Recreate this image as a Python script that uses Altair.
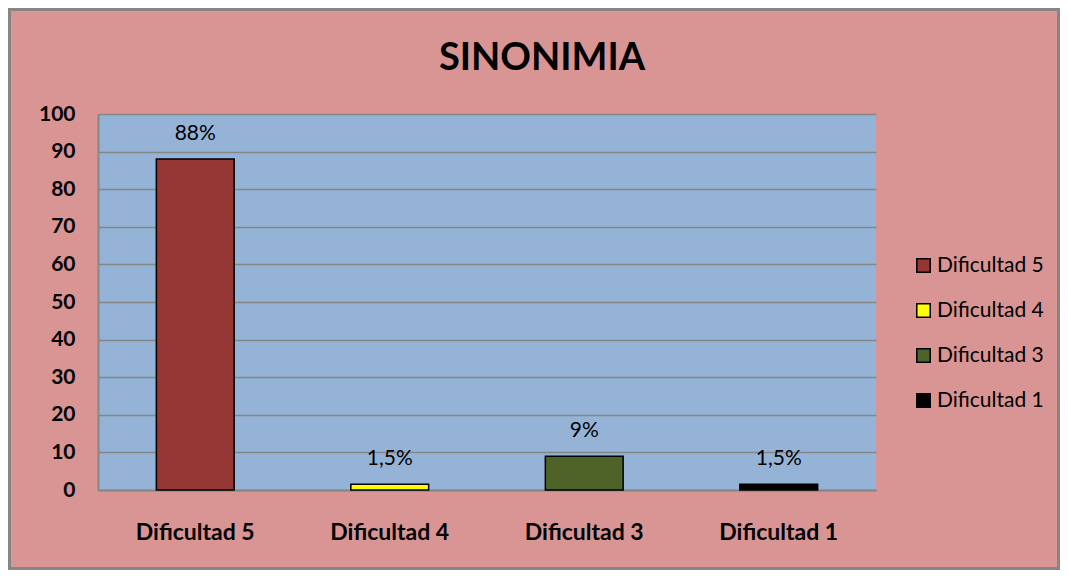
import altair as alt
import pandas as pd

categories = ["Dificultad 5", "Dificultad 4", "Dificultad 3", "Dificultad 1"]
values = [88, 1.5, 9, 1.5]
labels = ["88%", "1,5%", "9%", "1,5%"]
colors = ["#953735", "#FFFF00", "#4F6228", "#000000"]
yticks = [0, 10, 20, 30, 40, 50, 60, 70, 80, 90, 100]

df = pd.DataFrame({"cat": categories, "val": values, "lab": labels})

W, H = 778, 376
FONT = "Lato"

xenc = alt.X("cat:N", sort=categories, title=None,
             scale=alt.Scale(paddingInner=0.6, paddingOuter=0.3),
             axis=alt.Axis(labelAngle=0, labelFontSize=23, labelFontWeight="bold",
                           labelColor="black", labelPadding=31, ticks=False,
                           domainColor="#868686", domainWidth=2, labelFont=FONT))

yenc = alt.Y("val:Q", title=None,
             scale=alt.Scale(domain=[0, 100]),
             axis=alt.Axis(values=yticks, tickCount=11, labelOverlap=False, labelFontSize=21,
                           labelFontWeight="bold", labelColor="black", labelPadding=23,
                           ticks=False, domainColor="#868686", domainWidth=2,
                           gridColor="#868686", gridWidth=1.5, labelFont=FONT))

bars = alt.Chart(df).mark_bar(stroke="black", strokeWidth=1.5).encode(
    x=xenc,
    y=yenc,
    color=alt.Color("cat:N", sort=categories, title=None,
                    scale=alt.Scale(domain=categories, range=colors),
                    legend=alt.Legend(orient="none", legendX=815, legendY=141,
                                      symbolType="square", symbolSize=180,
                                      symbolStrokeColor="black", symbolStrokeWidth=1.5,
                                      labelFontSize=21, labelFont=FONT, labelColor="black",
                                      rowPadding=23, labelOffset=3)),
)

text = alt.Chart(df).mark_text(fontSize=21, font=FONT, color="black", dy=-25).encode(
    x=xenc,
    y=yenc,
    text="lab:N",
)

frame = alt.Chart(pd.DataFrame({"a": [0]})).mark_rect(
    fill=None, stroke="#868686", strokeWidth=3
).encode(x=alt.value(-88.5), x2=alt.value(960.5), y=alt.value(-104.5), y2=alt.value(454.5))

title_mark = alt.Chart(pd.DataFrame({"t": ["SINONIMIA"]})).mark_text(
    fontSize=38, fontWeight="bold", font=FONT, color="black", baseline="alphabetic"
).encode(x=alt.value(444), y=alt.value(-44), text="t:N")

chart = alt.layer(frame, bars, text, title_mark).properties(
    width=W, height=H,
    background="#D99594",
    padding={"left": 90, "top": 106, "right": 184, "bottom": 80},
    autosize=alt.AutoSizeParams(type="none"),
).configure_view(fill="#95B3D7", stroke=None)

chart.save("out.html", embed_options={"renderer": "svg", "actions": False})
